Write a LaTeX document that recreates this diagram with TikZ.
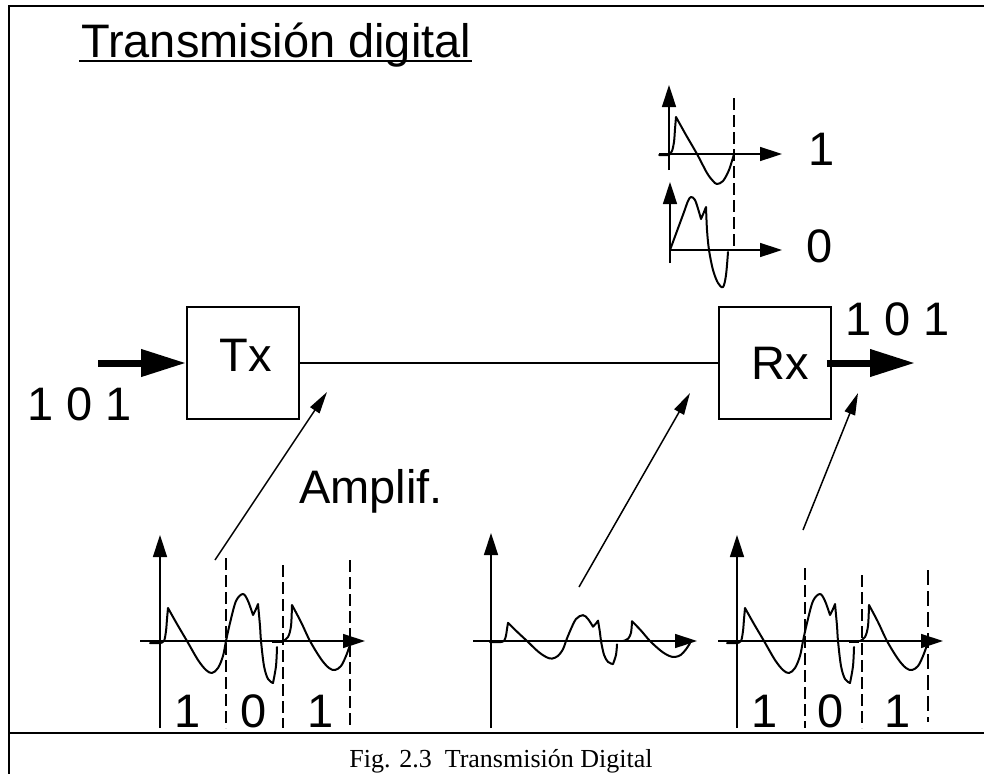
\documentclass[tikz,border=0pt]{standalone}
\usepackage{fontspec}
\setmainfont{Liberation Sans}
\newfontfamily\capserif{Liberation Serif}
\usetikzlibrary{arrows.meta}
\newcommand{\wavethreebits}{%
    \draw[wave] (-10,2) -- (0,2)
      -- plot[smooth,tension=.55] coordinates {(0,2) (4,0) (6,-10) (7,-22) (8,-33)}
      -- plot[smooth,tension=.55] coordinates {(8,-33) (17,-17) (27,0) (38,19) (46,29) (52,32) (58,27) (63,15) (66,0) (70,-18) (76,-40) (83,-47) (88,-40) (93,-26)}
      -- plot[smooth,tension=.55] coordinates {(93,-26) (96,-32) (98,-37)}
      -- plot[smooth,tension=.55] coordinates {(98,-37) (100,-15) (101,0) (104,25) (108,38) (113,42)}
      -- plot[smooth,tension=.55] coordinates {(113,42) (116,25) (117,6)};
    \draw[line width=1pt] (112,1) -- (122,1);
    \draw[wave] plot[smooth,tension=.55] coordinates {(123,0) (128,-4) (131,-15) (132,-36)}
      -- plot[smooth,tension=.55] coordinates {(132,-36) (141,-19) (150,0) (161,18) (169,27) (175,29) (181,25) (186,15) (190,4)};
}
\begin{document}
\begin{tikzpicture}[x=1pt,y=-1pt,
  frameline/.style={line width=2.5pt},
  blk/.style={draw, line width=1.8pt, minimum width=112pt, minimum height=112pt, inner sep=0pt, font=\fontsize{47}{50}\selectfont},
  lbl/.style={inner sep=0pt, font=\fontsize{47}{50}\selectfont},
  bigarrow/.style={line width=7pt, -{Triangle[length=45pt,width=26pt]}},
  ptr/.style={line width=1.5pt, -{Triangle[length=22pt,width=11pt]}},
  axisline/.style={line width=1.5pt, -{Triangle[length=22pt,width=14pt]}},
  conn/.style={line width=1.5pt},
  bitline/.style={line width=1.2pt, dash pattern=on 12pt off 5pt},
  wave/.style={line width=2pt, line join=round, line cap=round}
]
\useasboundingbox (0,0) rectangle (984,774);
% frame
\draw[frameline] (8,6) -- (984,6);
\draw[frameline] (9,5) -- (9,774);
\draw[frameline] (8,733) -- (984,733);

% title
\node[lbl, anchor=base west] (title) at (81,57) {Transmisión digital};
\draw[line width=2pt] (79,61) -- (472,61);

% blocks
\node[blk, text height=20pt, text depth=4pt] (tx) at (243,363) {\hspace*{6pt}Tx};
\node[blk] (rx) at (775,363) {\hspace*{10pt}Rx};
\draw[conn] (tx.east) -- (rx.west);

\coordinate (in) at (98,363);
\coordinate (out) at (915,363);
\draw[bigarrow] (in) -- (tx.west);
\draw[bigarrow] ([xshift=-5pt]rx.east) -- (out);

\node[lbl, anchor=base west] (bin) at (27,420) {1 0 1};
\node[lbl, anchor=base west] (bout) at (845,335) {1 0 1};
\node[lbl, anchor=base west] (amp) at (299,503) {Amplif.};

% pointer arrows
\coordinate (p1a) at (215,560); \coordinate (p1b) at (327,392);
\coordinate (p2a) at (579,587); \coordinate (p2b) at (690,393);
\coordinate (p3a) at (803,530); \coordinate (p3b) at (858,393);
\draw[ptr] (p1a) -- (p1b);
\draw[ptr] (p2a) -- (p2b);
\draw[ptr] (p3a) -- (p3b);

% left plot
\draw[axisline] (160,728) -- (160,535);
\draw[axisline] (140,641) -- (365,641);
\draw[bitline] (226,558) -- (226,728);
\draw[bitline] (283,565) -- (283,728);
\draw[bitline] (350,560) -- (350,728);
\begin{scope}[shift={(160,641)}]
\wavethreebits
\end{scope}
\node[lbl, anchor=base] (l1) at (188,727) {1};
\node[lbl, anchor=base] (l2) at (254,727) {0};
\node[lbl, anchor=base] (l3) at (321,727) {1};

% middle plot
\draw[axisline] (491,728) -- (491,533);
\draw[axisline] (473,641) -- (697,641);
\begin{scope}[shift={(500,641)}, yscale=.55]
\wavethreebits
\end{scope}

% right plot
\draw[axisline] (737,728) -- (737,535);
\draw[axisline] (718,641) -- (943,641);
\draw[bitline] (805,568) -- (805,728);
\draw[bitline] (862,575) -- (862,728);
\draw[bitline, line width=2pt, dash pattern=on 15pt off 6pt] (928,570) -- (928,722);
\begin{scope}[shift={(737,641)}]
\wavethreebits
\end{scope}
\node[lbl, anchor=base] (r1) at (765,727) {1};
\node[lbl, anchor=base] (r2) at (831,727) {0};
\node[lbl, anchor=base] (r3) at (898,727) {1};

% inset
\draw[axisline] (669,170) -- (669,85);
\draw[axisline] (659,154) -- (782,154);
\draw[axisline] (670,263) -- (670,182);
\draw[axisline] (670,250) -- (782,250);
\draw[bitline] (734,98) -- (734,247);
\begin{scope}[shift={(669,154)}]
\draw[wave] (-10,1) -- (0,1)
  -- plot[smooth,tension=.55] coordinates {(0,1) (3,-3) (5,-12) (6,-25) (7,-37)}
  -- plot[smooth,tension=.55] coordinates {(7,-37) (17,-19) (28,0) (38,19) (44,27) (48,30) (54,27) (60,16) (65,0)};
\end{scope}
\begin{scope}[shift={(670,250)}]
\draw[wave] plot[smooth,tension=.55] coordinates {(0,0) (7,-19) (14,-38) (18,-49) (21,-53) (25,-50) (29,-38) (31,-31)}
  -- plot[smooth,tension=.55] coordinates {(31,-31) (34,-38) (36,-43)}
  -- plot[smooth,tension=.55] coordinates {(36,-43) (37,-20) (39,0) (43,20) (48,33) (53,37) (56,25) (58,2)};
\end{scope}
\node[lbl, anchor=base] (i1) at (822,165) {1};
\node[lbl, anchor=base] (i0) at (820,262) {0};

% caption
\node[inner sep=0pt, anchor=base, font=\capserif\fontsize{26}{28}\selectfont] (cap) at (501,767) {Fig. 2.3\ \ Transmisión Digital};
\end{tikzpicture}
\end{document}
